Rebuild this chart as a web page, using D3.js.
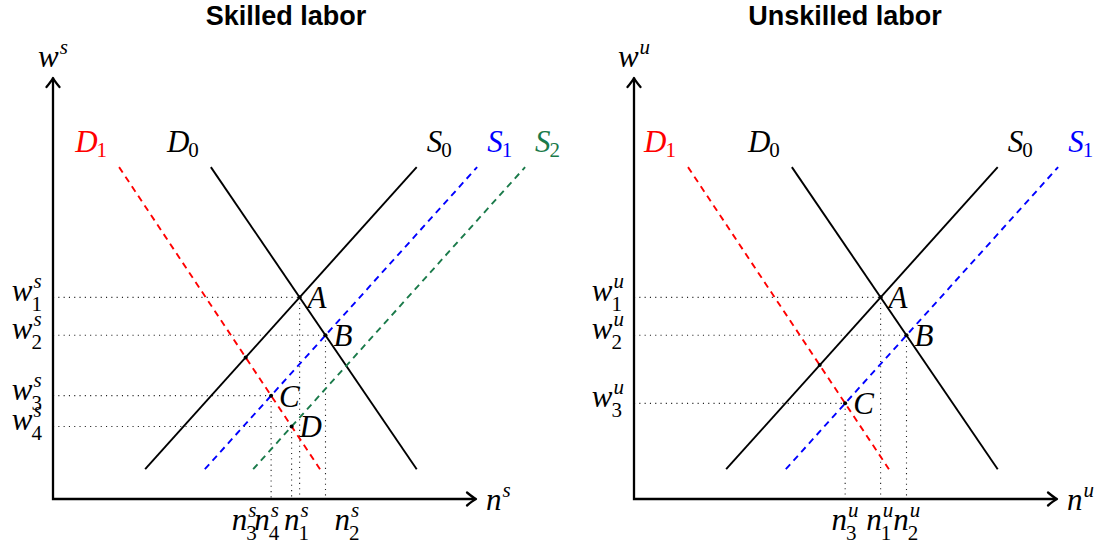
<!DOCTYPE html>
<html><head><meta charset="utf-8">
<script src="https://cdn.jsdelivr.net/npm/d3@7"></script>
<style>body{margin:0;background:#fff} svg{display:block}</style>
</head><body>
<svg id="c" width="1104" height="547"></svg>
<script>
// ---------- DATA ----------
const titles = ["Skilled labor", "Unskilled labor"];
const sectorSup = ["s", "u"];
const curveYRange = [0.79, 8.79];              // curves drawn between these wage levels
// x of each curve at [low y, high y] (diagram units)
const skilledCurveX = {
  D0: [9.63, 4.18], S0: [2.44, 9.63], S1: [4.02, 11.23], S2: [5.30, 12.50], D1: [7.07, 1.75]
};
const unskilledCurveX = {
  D0: [9.63, 4.18], S0: [2.44, 9.63], S1: [4.02, 11.23], D1: [6.75, 1.43]
};
// equilibrium points: [label, demand curve, supply curve, wage index]
const skilledPoints = [["A","D0","S0","1"],["B","D0","S1","2"],["C","D1","S1","3"],["D","D1","S2","4"],["","D1","S0",""]];
const unskilledPoints = [["A","D0","S0","1"],["B","D0","S1","2"],["C","D1","S1","3"],["","D1","S0",""]];
// employment tick labels: [subscript, equilibrium point, label position]
const skilledNTicks = [["3","C",5.08],["4","D",5.67],["1","A",6.46],["2","B",7.80]];
const unskilledNTicks = [["3","C",5.59],["1","A",6.51],["2","B",7.22]];
const axisMax = [11.2, 11.15];

// ---------- STYLE ----------
const SERIF = "'Liberation Serif', 'Times New Roman', serif";
const SANS = "'Liberation Sans', Arial, sans-serif";
const colors = {D0: "#000", S0: "#000", S1: "#0000ff", S2: "#1a7a4a", D1: "#ff0000"};
const dashedCurves = {S1: true, S2: true, D1: true};
const panelX = [53, 634];
const panelW = 423, axisY = 499, axisTop = 78;
const FS = 31, SFS = 21;

const svg = d3.select("#c");

function mathLabel(parent, base, sup, sub, x, y, anchor, color) {
  const g = parent.append("g").attr("fill", color || "#000");
  const tb = g.append("text").attr("font-family", SERIF).attr("font-style", "italic")
    .attr("font-size", FS).text(base);
  const bw = tb.node().getComputedTextLength();
  let supW = 0, subW = 0, tsup = null, tsub = null;
  if (sup) {
    tsup = g.append("text").attr("font-family", SERIF).attr("font-style", "italic")
      .attr("font-size", SFS).text(sup);
    supW = tsup.node().getComputedTextLength() + 1;
  }
  if (sub) {
    tsub = g.append("text").attr("font-family", SERIF).attr("font-size", SFS).text(sub);
    subW = tsub.node().getComputedTextLength();
  }
  const total = bw + Math.max(supW, subW);
  const x0 = anchor === "middle" ? x - total / 2 : anchor === "end" ? x - total : x;
  tb.attr("x", x0).attr("y", y);
  if (tsup) tsup.attr("x", x0 + bw + 1).attr("y", y - 13);
  if (tsub) tsub.attr("x", x0 + bw - 1).attr("y", y + (sup ? 10 : 5));
  return g;
}

function intersect(c1, c2) {
  const [[x1,y1],[x2,y2]] = c1, [[x3,y3],[x4,y4]] = c2;
  const d = (x1-x2)*(y3-y4) - (y1-y2)*(x3-x4);
  const t = ((x1-x3)*(y3-y4) - (y1-y3)*(x3-x4)) / d;
  return [x1 + t*(x2-x1), y1 + t*(y2-y1)];
}

function arrowHead(g, x, y, angle) {
  g.append("path")
    .attr("d", "M -9,-6.5 Q -3,-1.5 0,0 Q -3,1.5 -9,6.5")
    .attr("transform", `translate(${x},${y}) rotate(${angle})`)
    .attr("fill", "none").attr("stroke", "#000").attr("stroke-width", 2.3)
    .attr("stroke-linecap", "round").attr("stroke-linejoin", "round");
}

function drawPanel(i, curveX, points, nTicks) {
  const g = svg.append("g");
  const sup = sectorSup[i];
  const x = d3.scaleLinear().domain([0, axisMax[0]]).range([panelX[i], panelX[i] + panelW]);
  const y = d3.scaleLinear().domain([0, axisMax[1]]).range([axisY, axisTop]);
  const names = Object.keys(curveX);
  const curves = {};
  names.forEach(n => {
    curves[n] = [[curveX[n][0], curveYRange[0]], [curveX[n][1], curveYRange[1]]];
  });
  const eq = {};
  points.forEach(p => { eq[p[0] || ("_" + p[1] + p[2])] = intersect(curves[p[1]], curves[p[2]]); });

  // title
  const tx = i === 0 ? 286 : 845;
  g.append("text").attr("x", tx).attr("y", 25).attr("text-anchor", "middle")
    .attr("font-family", SANS).attr("font-weight", "bold").attr("font-size", 27)
    .text(titles[i]);

  // dotted guides
  const dot = g.append("g").attr("stroke", "#222").attr("stroke-width", 1.1)
    .attr("stroke-dasharray", "1.1,4.2").attr("fill", "none");
  points.filter(p => p[3]).forEach(p => {
    const [px, py] = eq[p[0]];
    dot.append("line").attr("x1", x(0)).attr("y1", y(py)).attr("x2", x(px)).attr("y2", y(py));
  });
  nTicks.forEach(t => {
    const [px, py] = eq[t[1]];
    dot.append("line").attr("x1", x(px)).attr("y1", y(py)).attr("x2", x(px)).attr("y2", y(0));
  });

  // curves
  const line = d3.line().x(d => x(d[0])).y(d => y(d[1]));
  names.forEach(n => {
    const pts = n.startsWith("D") ? [curves[n][1], curves[n][0]] : curves[n];
    g.append("path").attr("d", line(pts)).attr("fill", "none")
      .attr("stroke", colors[n]).attr("stroke-width", 1.9)
      .attr("stroke-dasharray", dashedCurves[n] ? "6.5,5" : null);
    const top = curves[n][1];
    if (n.startsWith("D")) {
      mathLabel(g, "D", null, n[1], x(top[0]) - 11, y(top[1]) - 15, "end", colors[n]);
    } else {
      mathLabel(g, "S", null, n[1], x(top[0]) + 10, y(top[1]) - 15, "start", colors[n]);
    }
  });

  // points
  points.forEach(p => {
    const [px, py] = eq[p[0] || ("_" + p[1] + p[2])];
    g.append("circle").attr("cx", x(px)).attr("cy", y(py)).attr("r", 2).attr("fill", "#000");
    if (p[0]) {
      g.append("text").attr("x", x(px) + 8).attr("y", y(py) + 11)
        .attr("font-family", SERIF).attr("font-style", "italic").attr("font-size", FS).text(p[0]);
    }
    if (p[3]) mathLabel(g, "w", sup, p[3], x(0) - 10, y(py) + 4, "end");
  });
  nTicks.forEach(t => {
    mathLabel(g, "n", sup, t[0], x(t[2]), 530, "middle");
  });

  // axes
  g.append("path")
    .attr("d", `M ${x(0)},${y(axisMax[1]) + 1} L ${x(0)},${y(0)} L ${x(axisMax[0]) - 1},${y(0)}`)
    .attr("fill", "none").attr("stroke", "#000").attr("stroke-width", 2.3);
  arrowHead(g, x(0), y(axisMax[1]), -90);
  arrowHead(g, x(axisMax[0]), y(0), 0);
  mathLabel(g, "w", sup, null, x(0), 67, "middle");
  mathLabel(g, "n", sup, null, x(axisMax[0]) + 10, 510, "start");
}

drawPanel(0, skilledCurveX, skilledPoints, skilledNTicks);
drawPanel(1, unskilledCurveX, unskilledPoints, unskilledNTicks);
</script>
</body></html>
